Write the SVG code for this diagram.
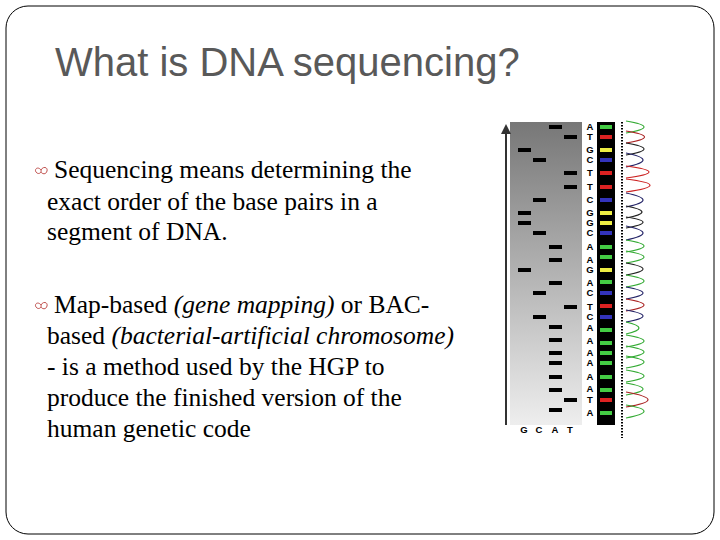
<svg xmlns="http://www.w3.org/2000/svg" width="720" height="540" viewBox="0 0 720 540">
<style>
.b{font-family:"Liberation Serif",serif;font-size:25.5px;fill:#000}
.i{font-style:italic}
.l{font-family:"Liberation Sans",sans-serif;font-weight:bold;font-size:9.5px;fill:#000;text-anchor:middle}
.band{fill:#000}
</style>
<defs>
<linearGradient id="gel" x1="0" y1="0" x2="0" y2="1"><stop offset="0" stop-color="#777"/><stop offset="1" stop-color="#eee"/></linearGradient>
<g id="bul"><path d="M0,0 c-3,-4 -7,-1 -5,2 c2,3 6,1 5,-2 c2,-4 7,-3 6,1 c-1,4 -5,3 -6,1" fill="none" stroke="#c0504d" stroke-width="1"/></g>
</defs>
<rect width="720" height="540" fill="#fff"/>
<rect x="6" y="6" width="708" height="528" rx="22" fill="none" stroke="#000" stroke-width="1"/>
<text x="55" y="76" font-family="Liberation Sans,sans-serif" font-size="40" fill="#595959">What is DNA sequencing?</text>
<use href="#bul" x="41" y="170"/>
<text class="b" x="54" y="178">Sequencing means determining the</text>
<text class="b" x="47" y="210">exact order of the base pairs in a</text>
<text class="b" x="47" y="240">segment of DNA.</text>
<use href="#bul" x="41" y="305"/>
<text class="b" x="54" y="313">Map-based  <tspan class="i">(gene mapping)</tspan> or BAC-</text>
<text class="b" x="47" y="344">based  <tspan class="i">(bacterial-artificial chromosome)</tspan></text>
<text class="b" x="47" y="375">-  is a method used by the HGP to</text>
<text class="b" x="47" y="406">produce the finished version of the</text>
<text class="b" x="47" y="437">human genetic code</text>
<g id="gelimg">
<rect x="510" y="122" width="72" height="303" fill="url(#gel)"/>
<line x1="506" y1="132" x2="506" y2="425" stroke="#333" stroke-width="2"/>
<path d="M501,134 L506,124 L511,134 Z" fill="#333"/>
<g class="band">
<rect x="549" y="125" width="13" height="4"/><rect x="564" y="135" width="13" height="4"/>
<rect x="518" y="148" width="13" height="4"/><rect x="533" y="158" width="13" height="4"/>
<rect x="564" y="171" width="13" height="4"/><rect x="564" y="185" width="13" height="4"/>
<rect x="533" y="198" width="13" height="4"/><rect x="518" y="211" width="13" height="4"/>
<rect x="518" y="221" width="13" height="4"/><rect x="533" y="231" width="13" height="4"/>
<rect x="549" y="245" width="13" height="4"/><rect x="549" y="258" width="13" height="4"/>
<rect x="518" y="268" width="13" height="4"/><rect x="549" y="281" width="13" height="4"/>
<rect x="533" y="291" width="13" height="4"/><rect x="564" y="305" width="13" height="4"/>
<rect x="533" y="315" width="13" height="4"/><rect x="549" y="325" width="13" height="4"/>
<rect x="549" y="338" width="13" height="4"/><rect x="549" y="351" width="13" height="4"/>
<rect x="549" y="361" width="13" height="4"/><rect x="549" y="375" width="13" height="4"/>
<rect x="549" y="388" width="13" height="4"/><rect x="564" y="398" width="13" height="4"/>
<rect x="549" y="408" width="13" height="4"/>
</g>
<text class="l" x="524" y="433">G</text><text class="l" x="539" y="433">C</text><text class="l" x="555" y="433">A</text><text class="l" x="570" y="433">T</text>
<g class="l">
<text x="590" y="130">A</text><text x="590" y="140">T</text><text x="590" y="153">G</text><text x="590" y="163">C</text>
<text x="590" y="176">T</text><text x="590" y="190">T</text><text x="590" y="203">C</text><text x="590" y="216">G</text>
<text x="590" y="226">G</text><text x="590" y="236">C</text><text x="590" y="250">A</text><text x="590" y="263">A</text>
<text x="590" y="273">G</text><text x="590" y="286">A</text><text x="590" y="296">C</text><text x="590" y="310">T</text>
<text x="590" y="320">C</text><text x="590" y="331">A</text><text x="590" y="344">A</text><text x="590" y="356">A</text>
<text x="590" y="366">A</text><text x="590" y="380">A</text><text x="590" y="392">A</text><text x="590" y="403">T</text>
<text x="590" y="416">A</text>
</g>
<rect x="597" y="122" width="18" height="303" fill="#000"/>
<g>
<rect x="600" y="125" width="12" height="4" fill="#4c4"/><rect x="600" y="135" width="12" height="4" fill="#d22"/>
<rect x="600" y="148" width="12" height="4" fill="#ee4"/><rect x="600" y="158" width="12" height="4" fill="#33b"/>
<rect x="600" y="171" width="12" height="4" fill="#d22"/><rect x="600" y="185" width="12" height="4" fill="#d22"/>
<rect x="600" y="198" width="12" height="4" fill="#33b"/><rect x="600" y="211" width="12" height="4" fill="#ee4"/>
<rect x="600" y="221" width="12" height="4" fill="#ee4"/><rect x="600" y="231" width="12" height="4" fill="#33b"/>
<rect x="600" y="245" width="12" height="4" fill="#4c4"/><rect x="600" y="255" width="12" height="4" fill="#4c4"/>
<rect x="600" y="268" width="12" height="4" fill="#ee4"/><rect x="600" y="280" width="12" height="4" fill="#4c4"/>
<rect x="600" y="291" width="12" height="4" fill="#33b"/><rect x="600" y="304" width="12" height="4" fill="#d22"/>
<rect x="600" y="315" width="12" height="4" fill="#33b"/><rect x="600" y="328" width="12" height="4" fill="#4c4"/>
<rect x="600" y="341" width="12" height="4" fill="#4c4"/><rect x="600" y="351" width="12" height="4" fill="#4c4"/>
<rect x="600" y="361" width="12" height="4" fill="#4c4"/><rect x="600" y="375" width="12" height="4" fill="#4c4"/>
<rect x="600" y="388" width="12" height="4" fill="#4c4"/><rect x="600" y="398" width="12" height="4" fill="#d22"/>
<rect x="600" y="411" width="12" height="4" fill="#4c4"/>
</g>
<line x1="622" y1="122" x2="622" y2="438" stroke="#000" stroke-width="2" stroke-dasharray="1.5,1.5"/>
<g fill="none" stroke-width="1.2">
<path d="M626,121 Q662,127 626,133" stroke="#3a3"/>
<path d="M626,131 Q663,137 626,143" stroke="#a22"/>
<path d="M626,143 Q662,149 626,155" stroke="#222"/>
<path d="M626,153 Q660,160 626,167" stroke="#226"/>
<path d="M626,166 Q672,172 626,178" stroke="#c22"/>
<path d="M626,179 Q674,185 626,192" stroke="#c22"/>
<path d="M626,193 Q660,200 626,207" stroke="#226"/>
<path d="M626,206 Q658,212 626,218" stroke="#222"/>
<path d="M626,217 Q660,222 626,228" stroke="#222"/>
<path d="M626,226 Q660,233 626,240" stroke="#226"/>
<path d="M626,240 Q662,246 626,252" stroke="#3a3"/>
<path d="M626,251 Q662,257 626,263" stroke="#3a3"/>
<path d="M626,263 Q660,269 626,275" stroke="#222"/>
<path d="M626,275 Q662,281 626,287" stroke="#3a3"/>
<path d="M626,287 Q660,293 626,299" stroke="#226"/>
<path d="M626,299 Q662,305 626,311" stroke="#a22"/>
<path d="M626,310 Q660,316 626,322" stroke="#226"/>
<path d="M626,322 Q652,328 626,334" stroke="#3a3"/>
<path d="M626,335 Q662,341 626,347" stroke="#3a3"/>
<path d="M626,346 Q662,352 626,358" stroke="#3a3"/>
<path d="M626,356 Q662,362 626,368" stroke="#3a3"/>
<path d="M626,370 Q662,376 626,382" stroke="#3a3"/>
<path d="M626,383 Q660,389 626,395" stroke="#3a3"/>
<path d="M626,392 Q670,400 626,407" stroke="#a22"/>
<path d="M626,405 Q662,411 626,418" stroke="#3a3"/>
</g>
</g>
</svg>
